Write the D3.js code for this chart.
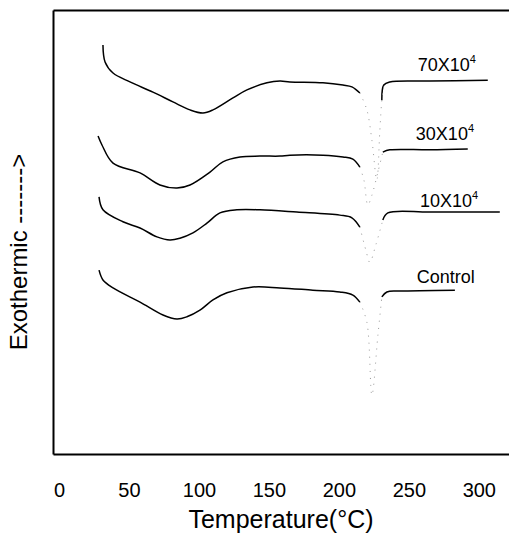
<!DOCTYPE html>
<html>
<head>
<meta charset="utf-8">
<script src="https://cdn.jsdelivr.net/npm/d3@7"></script>
<style>
  body { margin: 0; background: #fff; }
  svg { display: block; font-family: "Liberation Sans", Arial, sans-serif; }
</style>
</head>
<body>
<svg id="svg"></svg>
<script>
// tick labels on the temperature axis
const tempTicks = [0, 50, 100, 150, 200, 250, 300];

// curve labels, top to bottom
const seriesNames = ["70X10", "30X10", "10X10", "Control"];
const seriesExps = ["4", "4", "4", ""];

// temperature (°C) and heat flow (arbitrary units)
const temp70 = [31.4, 32.9, 38.6, 50.7, 67.1, 81.4, 93.6, 102.9, 110.0, 124.3, 134.3, 148.6, 157.9, 165.0, 188.6, 202.9, 209.3, 215.0, 220.0, 223.6, 227.1, 229.3, 230.7, 232.1, 236.4, 265.0, 306.4];
const heat70 = [92.1, 88.3, 85.8, 83.8, 81.5, 79.3, 77.5, 76.8, 77.5, 80.2, 82.0, 83.6, 84.0, 83.8, 83.6, 83.1, 82.7, 81.3, 77.5, 70.7, 61.7, 73.0, 79.7, 83.1, 83.8, 84.0, 84.2];

const temp30 = [27.9, 30.7, 38.6, 57.9, 72.1, 84.3, 93.6, 107.9, 117.1, 129.3, 143.6, 157.9, 165.0, 188.6, 202.9, 210.0, 215.0, 217.9, 220.7, 223.6, 227.9, 231.4, 236.4, 265.0, 292.1];
const heat30 = [71.6, 69.6, 65.5, 63.3, 60.6, 59.9, 60.6, 63.5, 65.8, 66.9, 67.1, 67.1, 67.3, 67.3, 66.9, 66.4, 64.6, 61.7, 56.1, 58.3, 63.5, 68.0, 68.5, 68.5, 68.7];

const temp10 = [28.6, 31.4, 45.7, 57.9, 70.0, 79.3, 86.4, 95.7, 105.7, 115.0, 127.1, 143.6, 170.0, 200.7, 209.3, 215.0, 219.3, 222.1, 226.4, 231.4, 235.0, 265.0, 315.0];
const heat10 = [57.9, 55.0, 52.3, 50.9, 48.9, 48.2, 48.6, 49.8, 52.0, 54.3, 55.0, 55.0, 54.5, 53.8, 53.2, 51.1, 45.9, 43.2, 47.1, 52.7, 54.3, 54.5, 54.5];

const tempCtl = [28.6, 31.4, 38.6, 57.9, 74.3, 84.3, 91.4, 100.7, 110.0, 120.0, 138.6, 157.9, 181.4, 200.7, 210.0, 215.0, 220.0, 223.6, 227.9, 230.7, 234.3, 243.6, 282.9];
const heatCtl = [41.4, 39.2, 37.4, 34.2, 31.3, 30.4, 30.9, 32.4, 34.7, 36.3, 37.6, 37.4, 36.9, 36.5, 35.8, 34.2, 29.7, 13.3, 26.8, 35.4, 36.5, 36.7, 36.9];

// where each curve label starts (temperature, heat flow)
const labelTemps = [256.4, 255.0, 257.9, 255.7];
const labelHeats = [86.3, 70.7, 55.6, 38.5];

// the melting peaks are barely visible in the scan, drawn faint
const meltFrom = 215.5;
const meltTo = 230.5;

const width = 509;
const height = 538;

let svg = d3.select("#svg").attr("width", width).attr("height", height);

let xScale = d3.scaleLinear().domain([-4.3, 323]).range([53, 511]);
let yScale = d3.scaleLinear().domain([0, 100]).range([454, 10]);

const temps = [temp70, temp30, temp10, tempCtl];
const heats = [heat70, heat30, heat10, heatCtl];

let series = seriesNames.map((name, i) => ({
    name: name,
    exp: seriesExps[i],
    points: temps[i].map((t, j) => ({ t: t, h: heats[i][j] }))
}));

// frame: left, top and bottom, no tick marks
svg.append("g")
    .attr("class", "x-axis")
    .attr("transform", `translate(0,${yScale(0)})`)
    .call(d3.axisBottom(xScale).tickValues(tempTicks).tickSize(0).tickPadding(29).tickFormat(d3.format("d")))
    .call(g => g.select(".domain").attr("stroke-width", 2))
    .selectAll("text")
    .style("font-size", "20px")
    .style("font-family", "'Liberation Sans', Arial, sans-serif")
    .attr("fill", "#000");

svg.append("g")
    .attr("transform", `translate(0,${yScale(100)})`)
    .call(d3.axisTop(xScale).tickValues([]).tickSizeOuter(0))
    .select(".domain").attr("stroke-width", 2);

svg.append("g")
    .attr("transform", `translate(${xScale.range()[0]},0)`)
    .call(d3.axisLeft(yScale).tickValues([]).tickSizeOuter(0))
    .select(".domain").attr("stroke-width", 2);

const solidLine = d3.line()
    .defined(d => d.t <= meltFrom || d.t >= meltTo)
    .x(d => xScale(d.t))
    .y(d => yScale(d.h))
    .curve(d3.curveCatmullRom.alpha(0.5));

const meltLine = d3.line()
    .defined(d => d.t >= meltFrom - 0.5 && d.t <= meltTo + 2)
    .x(d => xScale(d.t))
    .y(d => yScale(d.h))
    .curve(d3.curveCatmullRom);

const curves = svg.append("g").attr("class", "curves");

curves.selectAll(".dsc")
    .data(series)
    .join("path")
    .attr("class", "dsc")
    .attr("fill", "none")
    .attr("stroke", "#000")
    .attr("stroke-width", 1.5)
    .attr("d", d => solidLine(d.points));

curves.selectAll(".melt")
    .data(series)
    .join("path")
    .attr("class", "melt")
    .attr("fill", "none")
    .attr("stroke", "#999")
    .attr("stroke-width", 1)
    .attr("stroke-dasharray", "1,6")
    .attr("d", d => meltLine(d.points));

// curve labels
let labels = svg.selectAll(".label")
    .data(series)
    .join("text")
    .attr("class", "label")
    .attr("x", (d, i) => xScale(labelTemps[i]))
    .attr("y", (d, i) => yScale(labelHeats[i]))
    .style("font-size", "18px")
    .attr("fill", "#000")
    .text(d => d.name);

labels.filter(d => d.exp !== "")
    .append("tspan")
    .attr("dy", -8)
    .style("font-size", "11px")
    .text(d => d.exp);

// axis titles
svg.append("text")
    .attr("x", 281)
    .attr("y", 528)
    .attr("text-anchor", "middle")
    .style("font-size", "25px")
    .attr("fill", "#000")
    .text("Temperature(°C)");

svg.append("text")
    .attr("transform", "translate(27,252) rotate(-90)")
    .attr("text-anchor", "middle")
    .style("font-size", "24px")
    .attr("fill", "#000")
    .text("Exothermic  ------->");
</script>
</body>
</html>
